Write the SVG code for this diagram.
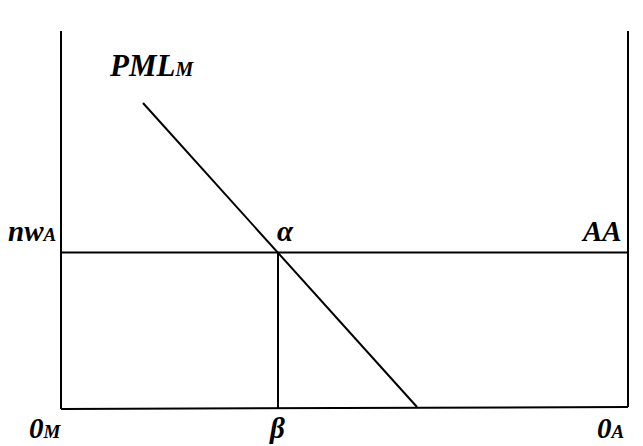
<svg xmlns="http://www.w3.org/2000/svg" width="643" height="446" viewBox="0 0 643 446">
<style>
.ln{stroke:#000;stroke-width:2;fill:none}
.t{font-family:"Liberation Serif","Times New Roman",serif;font-weight:bold;font-style:italic;font-size:29px;fill:#000}
.s{font-size:19px}
</style>
<rect width="643" height="446" fill="#fff"/>
<g id="connectors">
<line class="ln" x1="61" y1="31" x2="61" y2="409"/>
<line class="ln" x1="628" y1="31" x2="628" y2="407"/>
<line class="ln" x1="61" y1="409" x2="628" y2="407"/>
<line class="ln" x1="61" y1="252.5" x2="628" y2="252.5"/>
<line class="ln" x1="278" y1="252.5" x2="278" y2="408"/>
<line class="ln" x1="143" y1="103" x2="417" y2="407"/>
</g>
<g id="PML"><text class="t" x="110" y="76" style="font-size:31px">PML<tspan style="font-size:20px">M</tspan></text></g>
<g id="nwA"><text class="t" x="8" y="241">nw<tspan class="s">A</tspan></text></g>
<g id="alpha"><text class="t" x="277" y="241">α</text></g>
<g id="AA"><text class="t" x="583" y="241">AA</text></g>
<g id="zeroM"><text class="t" x="29" y="438">0<tspan class="s">M</tspan></text></g>
<g id="beta"><text class="t" x="270" y="438">β</text></g>
<g id="zeroA"><text class="t" x="597" y="438">0<tspan class="s">A</tspan></text></g>
</svg>
